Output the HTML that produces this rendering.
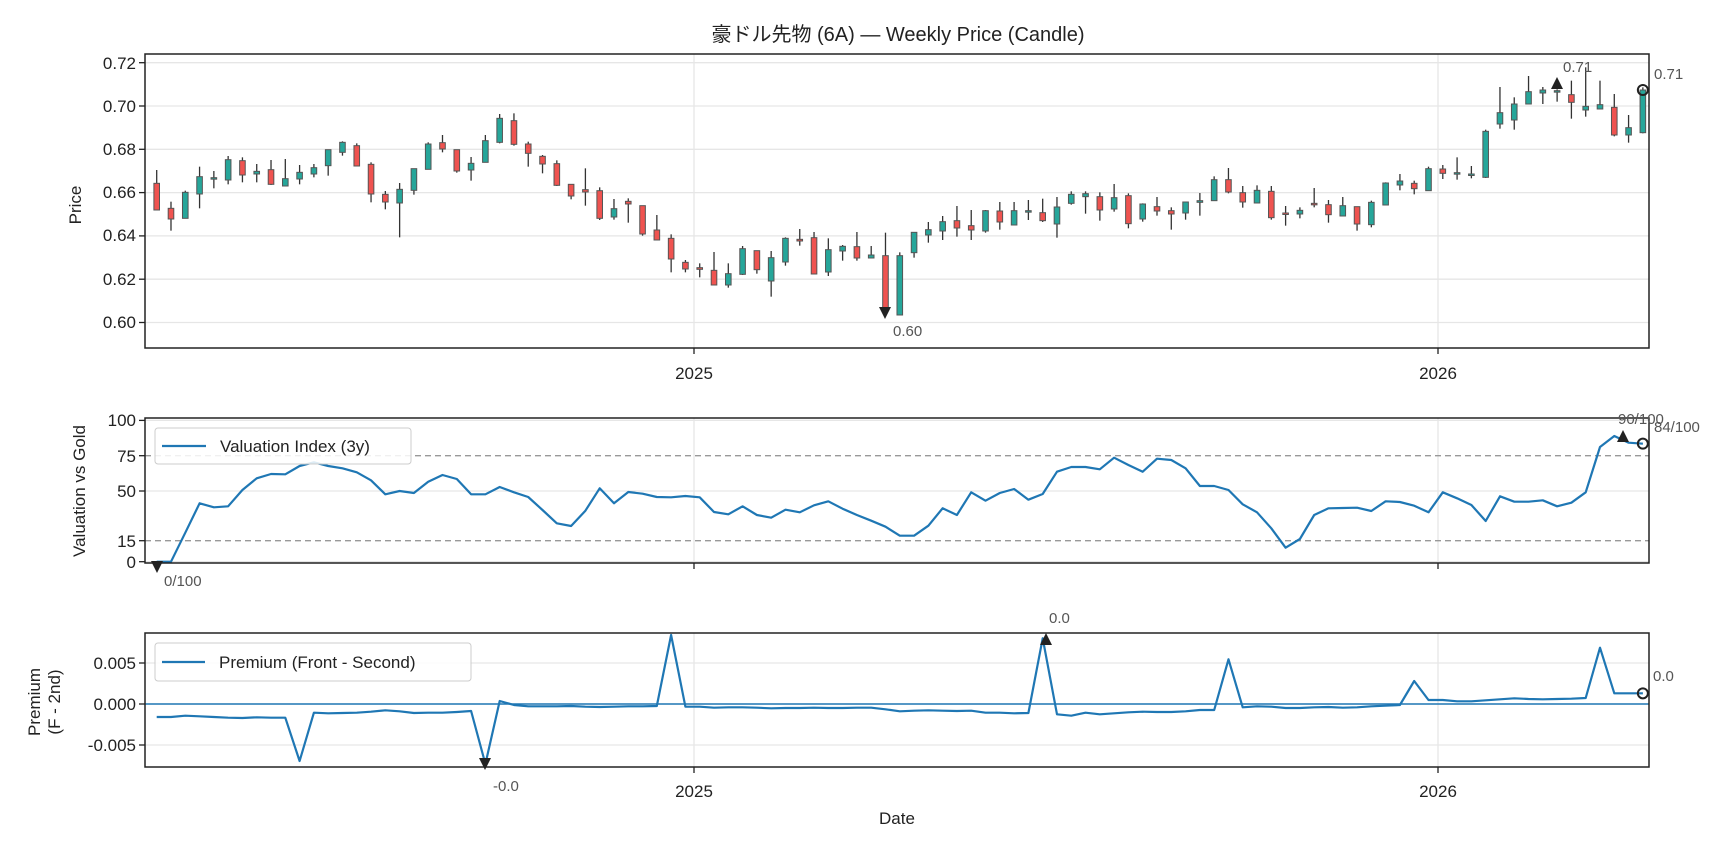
<!DOCTYPE html>
<html><head><meta charset="utf-8"><style>
html,body{margin:0;padding:0;background:#fff;}
svg{display:block;font-family:"Liberation Sans","Noto Sans CJK JP",sans-serif;}
</style></head><body>
<svg id="s" width="1728" height="849" viewBox="0 0 1728 849" xmlns="http://www.w3.org/2000/svg">
<rect width="1728" height="849" fill="#fff"/>
<g id="grid"></g>
<g id="plot"></g>
<rect x="145" y="54" width="1504" height="294" fill="none" stroke="#222" stroke-width="1.5"/>
<rect x="145" y="418" width="1504" height="145" fill="none" stroke="#222" stroke-width="1.5"/>
<rect x="145" y="633" width="1504" height="134" fill="none" stroke="#222" stroke-width="1.5"/>
<g id="ticks" stroke="#222" stroke-width="1.3"></g>
<text x="898" y="41" font-size="20" text-anchor="middle" fill="#222">豪ドル先物 (6A) — Weekly Price (Candle)</text>
<g font-size="17" fill="#222" text-anchor="end">
<text x="136" y="69">0.72</text><text x="136" y="112">0.70</text><text x="136" y="155">0.68</text>
<text x="136" y="198">0.66</text><text x="136" y="241">0.64</text><text x="136" y="285">0.62</text>
<text x="136" y="328">0.60</text>
<text x="136" y="426">100</text><text x="136" y="462">75</text><text x="136" y="497">50</text>
<text x="136" y="547">15</text><text x="136" y="568">0</text>
<text x="136" y="669">0.005</text><text x="136" y="710">0.000</text><text x="136" y="751">-0.005</text>
</g>
<g font-size="17" fill="#222" text-anchor="middle">
<text x="694" y="379">2025</text><text x="1438" y="379">2026</text>
<text x="694" y="797">2025</text><text x="1438" y="797">2026</text>
<text x="897" y="824">Date</text>
<text transform="translate(81,205) rotate(-90)">Price</text>
<text transform="translate(85,491) rotate(-90)">Valuation vs Gold</text>
<text transform="translate(40,702) rotate(-90)">Premium</text>
<text transform="translate(60,702) rotate(-90)">(F - 2nd)</text>
</g>
<g font-size="15" fill="#555">
<text x="893" y="336">0.60</text>
<text x="1563" y="72">0.71</text>
<text x="1654" y="79">0.71</text>
<text x="164" y="586">0/100</text>
<text x="1618" y="424">90/100</text>
<text x="1654" y="432">84/100</text>
<text x="1049" y="623">0.0</text>
<text x="493" y="791">-0.0</text>
<text x="1653" y="681">0.0</text>
</g>
<rect x="155" y="428" width="256" height="36" rx="3" fill="#fff" fill-opacity="0.85" stroke="#ccc"/>
<line x1="162" y1="446" x2="206" y2="446" stroke="#1f77b4" stroke-width="2.2"/>
<text x="220" y="452" font-size="17" fill="#222">Valuation Index (3y)</text>
<rect x="155" y="643" width="316" height="38" rx="3" fill="#fff" fill-opacity="0.85" stroke="#ccc"/>
<line x1="162" y1="662" x2="205" y2="662" stroke="#1f77b4" stroke-width="2.2"/>
<text x="219" y="668" font-size="17" fill="#222">Premium (Front - Second)</text>
<script>
(function(){
var NS="http://www.w3.org/2000/svg";
function el(p,t,a){var e=document.createElementNS(NS,t);for(var k in a)e.setAttribute(k,a[k]);document.getElementById(p).appendChild(e);return e;}
var L=145,R=1649;
[62.7,106,149.3,192.6,235.9,279.2,322.5].forEach(function(y){el("grid","line",{x1:L,x2:R,y1:y,y2:y,stroke:"#e6e6e6","stroke-width":1.3});});
[420.4,491,561.7].forEach(function(y){el("grid","line",{x1:L,x2:R,y1:y,y2:y,stroke:"#e6e6e6","stroke-width":1.3});});
[663,745].forEach(function(y){el("grid","line",{x1:L,x2:R,y1:y,y2:y,stroke:"#e6e6e6","stroke-width":1.3});});
[694,1438].forEach(function(x){
 [[54,348],[418,563],[633,767]].forEach(function(r){el("grid","line",{x1:x,x2:x,y1:r[0],y2:r[1],stroke:"#e6e6e6","stroke-width":1.3});});
 [348,563,767].forEach(function(y){el("ticks","line",{x1:x,x2:x,y1:y,y2:y+6});});
});
[62.7,106,149.3,192.6,235.9,279.2,322.5,420.4,455.7,491,540.7,561.7,663,704,745].forEach(function(y){el("ticks","line",{x1:L-6,x2:L,y1:y,y2:y});});
[455.7,540.7].forEach(function(y){el("grid","line",{x1:L,x2:R,y1:y,y2:y,stroke:"#999","stroke-width":1.4,"stroke-dasharray":"6,4"});});
function X(i){return 156.7+i*14.29;}
var c1=[[550,630,510,630,'r'],[625,657,605,692,'r'],[577,655,572,655,'g'],[530,582,500,625,'g'],[533,537,513,565,'g'],[479,540,468,553,'g'],[482,525,472,547,'r'],[514,522,492,547,'g'],[509,553,480,555,'r'],[536,558,477,558,'g'],[517,537,495,553,'g'],[503,522,492,532,'g'],[449,497,449,527,'g'],[427,457,424,467,'g'],[437,498,430,498,'r'],[493,582,487,607,'r'],[583,606,573,628,'r'],[568,609,549,712,'g'],[506,571,506,584,'g'],[432,508,427,508,'g'],[428,447,405,457,'r'],[449,513,449,518,'r'],[490,510,471,542,'g'],[422,487,405,487,'g'],[355,427,342,430,'g'],[362,433,340,437,'r'],[432,460,425,500,'r'],[469,492,465,520,'r'],[491,556,481,558,'r'],[553,588,553,598,'r'],[569,576,505,617,'r'],[572,655,562,660,'r'],[626,651,597,659,'g'],[604,612,595,668,'r'],[617,702,617,707,'r'],[690,720,645,720,'r'],[715,777,703,817,'r'],[787,807,780,817,'r']];
var c5=[[323,328,310,352,'r'],[331,375,276,375,'r'],[341,375,310,383,'g'],[266,343,258,345,'g'],[272,329,272,341,'r'],[293,363,273,410,'g'],[235,306,232,317,'g'],[238,243,207,257,'r'],[233,342,216,342,'r'],[269,336,235,348,'g'],[259,273,255,302,'g'],[260,294,216,302,'r'],[285,294,258,294,'g'],[287,445,218,445,'r'],[287,465,277,465,'g'],[217,278,216,293,'g'],[209,225,186,248,'g'],[185,213,168,240,'g'],[182,204,138,230,'r'],[197,210,150,240,'r'],[152,213,150,218,'g'],[153,186,126,209,'r'],[152,195,126,195,'g'],[152,156,120,180,'g'],[158,182,116,186,'r'],[141,192,111,233,'g'],[103,130,94,134,'g'],[101,110,94,161,'g'],[110,150,97,182,'r'],[113,147,72,155,'g'],[107,191,100,205,'r'],[132,177,130,185,'g'],[140,153,111,167,'r'],[152,162,142,209,'r'],[126,159,125,179,'g'],[122,127,99,167,'g']];
var c6=[[377,440,367,440,'g'],[377,414,342,418,'r'],[416,444,396,461,'r'],[409,447,394,447,'g'],[412,491,396,497,'r'],[477,481,456,515,'r'],[469,480,460,493,'g'],[448,452,402,460,'r'],[452,482,438,506,'r'],[455,486,429,486,'g'],[458,510,458,530,'r'],[445,512,440,520,'g'],[387,453,385,453,'g'],[381,393,360,409,'g'],[388,404,380,421,'r'],[344,410,338,410,'g'],[345,358,333,375,'r'],[356,360,310,377,'g'],[360,364,336,373,'g'],[232,370,227,372,'g'],[176,210,99,224,'g'],[150,198,130,227,'g'],[113,150,66,150,'g'],[108,117,99,150,'g'],[110,114,106,143,'g'],[122,145,80,194,'r'],[157,168,40,188,'g'],[152,165,80,165,'g'],[160,243,120,247,'r'],[221,243,183,266,'g'],[108,236,100,238,'g']];
var all=[];
c1.forEach(function(c){all.push(c.slice(0,4).map(function(v){return v/3;}).concat([c[4]]));});
c5.forEach(function(c){all.push(c.slice(0,4).map(function(v){return 160+v/3;}).concat([c[4]]));});
c6.forEach(function(c){all.push(c.slice(0,4).map(function(v){return 54+v/3;}).concat([c[4]]));});
all.forEach(function(c,i){var x=X(i);
 el("plot","line",{x1:x,x2:x,y1:c[2],y2:c[3],stroke:"#333","stroke-width":1.3});
 var h=Math.max(c[1]-c[0],1.5);
 el("plot","rect",{x:x-2.8,y:c[0],width:5.6,height:h,fill:c[4]=='g'?"#26a69a":"#ef5350",stroke:"#555","stroke-width":1});
});
el("plot","path",{d:"M879,307 L891,307 L885,319 Z",fill:"#222"});
el("plot","path",{d:"M1551,89 L1563,89 L1557,77 Z",fill:"#222"});
el("plot","circle",{cx:X(104),cy:90,r:5,fill:"none",stroke:"#222","stroke-width":2});
var v1=[470,470,383,295,307,304,255,220,207,208,183,172,183,190,202,226,268,258,264,230,210,222,268,268,246,262,276,315,355,363,317,250,295,261,266,276,277,273,277,321,328,304,330,338,314,322,301,289,311];
var v2=[330,347,365,392,392,362,310,330,262,287,264,252,284,267,200,186,186,193,158,180,200,161,165,190,243,243,255,298,322,370,428,402,330,310,309,308,318,289,291,302,322,262,280,300,348,274,290,290,286,304,293,262,126,93,113,116];
var vals=v1.concat(v2),pts=[];
vals.forEach(function(z,i){pts.push(X(i).toFixed(1)+","+(405+z/3).toFixed(1));});
el("plot","polyline",{points:pts.join(" "),fill:"none",stroke:"#1f77b4","stroke-width":2.2,"stroke-linejoin":"round"});
el("plot","path",{d:"M151,561 L163,561 L157,573 Z",fill:"#222"});
el("plot","path",{d:"M1617,442 L1629,442 L1623,430 Z",fill:"#222"});
el("plot","circle",{cx:X(104),cy:405+116/3,r:5,fill:"none",stroke:"#222","stroke-width":2});
el("plot","line",{x1:L,x2:R,y1:704,y2:704,stroke:"#1f77b4","stroke-width":1.6});
var p1=[291,291,287,289,291,293,294,292,293,293,423,278,280,279,278,275,271,274,279,278,278,276,273,432,243,255,259,259,259,258,260,261,260,259,259,258,45,260,260,263,262,262,263,265,264,264,263,264,264,263,263,268];
var p2=[274,272,271,272,273,272,278,278,280,279,55,283,287,278,283,280,277,275,276,276,274,270,270,118,262,259,260,264,264,262,261,263,262,259,257,255,183,240,240,244,244,241,238,235,237,238,237,236,234,83,220,220,220];
var pv=p1.concat(p2),pp=[];
pv.forEach(function(z,i){pp.push(X(i).toFixed(1)+","+(620+z/3).toFixed(1));});
el("plot","polyline",{points:pp.join(" "),fill:"none",stroke:"#1f77b4","stroke-width":2.2,"stroke-linejoin":"round"});
el("plot","path",{d:"M479,758 L491,758 L485,770 Z",fill:"#222"});
el("plot","path",{d:"M1040,645 L1052,645 L1046,633 Z",fill:"#222"});
el("plot","circle",{cx:X(104),cy:620+220/3,r:5,fill:"none",stroke:"#222","stroke-width":2});
})();
</script>
</svg>
</body></html>
